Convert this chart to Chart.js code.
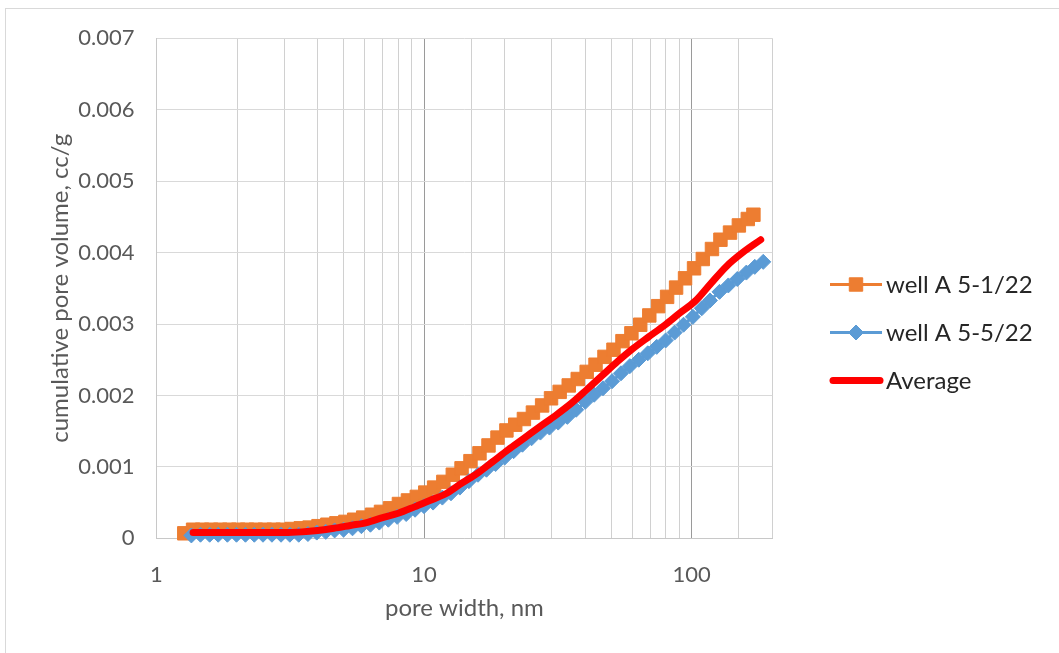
<!DOCTYPE html>
<html>
<head>
<meta charset="utf-8">
<script src="https://cdn.jsdelivr.net/npm/chart.js@4/dist/chart.umd.min.js"></script>
<style>
  html, body { margin: 0; padding: 0; background: #fff; }
  #wrap { width: 1059px; height: 653px; position: relative; }
</style>
</head>
<body>
<div id="wrap"><canvas id="poreChart"></canvas></div>
<script>
// dados (largura de poro em nm, volume acumulado em cc/g)
const seriesNames = ['well A 5-1/22', 'well A 5-5/22', 'Average'];

const orangeWidth = [1.27, 1.37, 1.48, 1.60, 1.73, 1.87, 2.02, 2.18, 2.35, 2.54, 2.74, 2.96, 3.20, 3.46, 3.73,
  4.03, 4.35, 4.70, 5.08, 5.48, 5.92, 6.39, 6.90, 7.46, 8.05, 8.70, 9.39, 10.1, 10.9, 11.8, 12.8, 13.8, 14.9,
  16.1, 17.4, 18.8, 20.3, 21.9, 23.6, 25.5, 27.6, 29.8, 32.1, 34.7, 37.5, 40.5, 43.7, 47.2, 51.0, 55.1, 59.5,
  64.2, 69.4, 74.9, 80.9, 87.4, 94.4, 102, 110, 119, 128, 139, 150, 162, 170];
const orangeVol = [0.00007, 0.00012, 0.00012, 0.00012, 0.00012, 0.00012, 0.00012, 0.00012, 0.00012, 0.00012,
  0.00012, 0.00012, 0.00013, 0.00014, 0.00015, 0.00017, 0.00019, 0.00021, 0.00023, 0.00026, 0.00029, 0.00033,
  0.00037, 0.00042, 0.00048, 0.00053, 0.00058, 0.00064, 0.00071, 0.00079, 0.00089, 0.00098, 0.00108, 0.00119,
  0.00130, 0.00141, 0.00151, 0.00159, 0.00167, 0.00176, 0.00186, 0.00196, 0.00205, 0.00214, 0.00223, 0.00233,
  0.00243, 0.00254, 0.00264, 0.00276, 0.00287, 0.00299, 0.00312, 0.00325, 0.00338, 0.00351, 0.00364, 0.00378,
  0.00391, 0.00405, 0.00418, 0.00428, 0.00438, 0.00447, 0.00453];

const blueWidth = [1.35, 1.46, 1.58, 1.70, 1.84, 1.99, 2.15, 2.32, 2.50, 2.70, 2.92, 3.15, 3.40, 3.68, 3.97,
  4.29, 4.63, 5.00, 5.40, 5.83, 6.30, 6.80, 7.35, 7.93, 8.57, 9.25, 9.99, 10.8, 11.7, 12.6, 13.6, 14.7, 15.9,
  17.1, 18.5, 20.0, 21.6, 23.3, 25.2, 27.2, 29.4, 31.7, 34.3, 37.0, 40.0, 43.2, 46.6, 50.4, 54.4, 58.7, 63.4,
  68.5, 74.0, 79.9, 86.3, 93.2, 101, 109, 117, 127, 137, 148, 160, 172, 185];
const blueVol = [0.00004, 0.00005, 0.00005, 0.00005, 0.00005, 0.00005, 0.00005, 0.00005, 0.00005, 0.00005,
  0.00005, 0.00005, 0.00005, 0.00006, 0.00008, 0.00009, 0.00011, 0.00012, 0.00014, 0.00017, 0.00019, 0.00022,
  0.00026, 0.00030, 0.00034, 0.00040, 0.00045, 0.00050, 0.00057, 0.00063, 0.00071, 0.00080, 0.00089, 0.00096,
  0.00104, 0.00113, 0.00122, 0.00131, 0.00140, 0.00148, 0.00155, 0.00162, 0.00170, 0.00180, 0.00191, 0.00201,
  0.00210, 0.00220, 0.00231, 0.00241, 0.00250, 0.00259, 0.00268, 0.00277, 0.00288, 0.00299, 0.00310, 0.00322,
  0.00333, 0.00345, 0.00354, 0.00363, 0.00372, 0.00380, 0.00387];

const avgWidth = [1.37, 1.6, 1.9, 2.2, 2.6, 3.0, 3.5, 4.0, 4.6, 5.3, 6.1, 7.0, 8.0, 9.2, 10.5, 12, 13.8, 15.8,
  18, 20.6, 23.6, 27, 31, 35.5, 40.5, 46, 53, 60, 69, 79, 90, 103, 118, 135, 155, 181];
const avgVol = [0.00008, 0.00008, 0.00008, 0.00008, 0.00008, 0.00008, 0.00009, 0.00011, 0.00014, 0.00018,
  0.00022, 0.00029, 0.00035, 0.00044, 0.00053, 0.00062, 0.00077, 0.00091, 0.00107, 0.00124, 0.00140, 0.00156,
  0.00172, 0.00189, 0.00208, 0.00227, 0.00248, 0.00265, 0.00282, 0.00298, 0.00315, 0.00332, 0.00357, 0.00381,
  0.00400, 0.00418];

const xLabels = [1, 10, 100];
const yTicks = [0, 0.001, 0.002, 0.003, 0.004, 0.005, 0.006, 0.007];

const toPoints = (xs, ys) => xs.map((x, i) => ({ x: x, y: ys[i] }));

const FONT = 'Lato, "Open Sans", sans-serif';

// moldura e fundo
const framePlugin = {
  id: 'frame',
  beforeDraw(chart) {
    const ctx = chart.ctx;
    ctx.save();
    ctx.fillStyle = '#fff';
    ctx.fillRect(0, 0, chart.width, chart.height);
    ctx.strokeStyle = '#d9d9d9';
    ctx.lineWidth = 1;
    ctx.strokeRect(5.5, 8.5, 3000, 3000);
    ctx.restore();
  }
};

// legenda no estilo do Excel (linha + marcador)
const legendPlugin = {
  id: 'xlLegend',
  afterDraw(chart) {
    const ctx = chart.ctx;
    const items = chart.data.datasets.slice().reverse();
    ctx.save();
    items.forEach((ds, i) => {
      const y = 284.5 + i * 48;
      const isAvg = ds.label === 'Average';
      ctx.strokeStyle = ds.borderColor;
      ctx.lineWidth = ds.borderWidth;
      ctx.lineCap = isAvg ? 'round' : 'butt';
      ctx.beginPath();
      ctx.moveTo(isAvg ? 833 : 830, y);
      ctx.lineTo(isAvg ? 880 : 882, y);
      ctx.stroke();
      if (ds.pointRadius > 0) {
        ctx.fillStyle = ds.pointBackgroundColor;
        ctx.strokeStyle = ds.pointBorderColor;
        ctx.lineWidth = 1;
        Chart.helpers.drawPoint(ctx, {
          pointStyle: ds.pointStyle,
          radius: ds.pointRadius,
          borderWidth: 1,
          rotation: 0
        }, 856, y);
      }
      ctx.fillStyle = '#262626';
      ctx.font = '24px ' + FONT;
      ctx.textBaseline = 'middle';
      ctx.textAlign = 'left';
      ctx.fillText(ds.label, 886, y + 1);
    });
    ctx.restore();
  }
};

const ctx = document.getElementById('poreChart').getContext('2d');

new Chart(ctx, {
  type: 'line',
  data: {
    datasets: [
      {
        label: seriesNames[2],
        data: toPoints(avgWidth, avgVol),
        borderColor: '#ff0000',
        backgroundColor: '#ff0000',
        borderWidth: 7,
        pointRadius: 0,
        borderCapStyle: 'round',
        cubicInterpolationMode: 'monotone',
        clip: false
      },
      {
        label: seriesNames[1],
        data: toPoints(blueWidth, blueVol),
        borderColor: '#5b9bd5',
        backgroundColor: '#5b9bd5',
        borderWidth: 3,
        pointStyle: 'rectRot',
        pointRadius: 7.5,
        pointBackgroundColor: '#5b9bd5',
        pointBorderColor: '#5b9bd5',
        pointBorderWidth: 1,
        tension: 0,
        clip: false
      },
      {
        label: seriesNames[0],
        data: toPoints(orangeWidth, orangeVol),
        borderColor: '#ed7d31',
        backgroundColor: '#ed7d31',
        borderWidth: 3,
        pointStyle: 'rect',
        pointRadius: 9.5,
        pointBackgroundColor: '#ed7d31',
        pointBorderColor: '#ed7d31',
        pointBorderWidth: 1,
        tension: 0,
        clip: false
      }
    ]
  },
  options: {
    responsive: true,
    maintainAspectRatio: false,
    animation: false,
    events: [],
    layout: { padding: { left: 0, right: 286.7, top: 38.3, bottom: 0 } },
    plugins: {
      legend: { display: false },
      tooltip: { enabled: false }
    },
    scales: {
      x: {
        type: 'logarithmic',
        min: 1,
        max: 200,
        grid: {
          drawTicks: false,
          lineWidth: 1,
          color: (c) => {
            const v = c.tick ? c.tick.value : 0;
            return (v === 10 || v === 100) ? '#9a9a9a' : '#d0d0d0';
          }
        },
        border: { display: true, color: '#c8c8c8' },
        ticks: {
          autoSkip: false,
          maxRotation: 0,
          padding: 23,
          color: '#595959',
          font: { family: FONT, size: 22 },
          callback: (v) => xLabels.includes(v) ? String(v) : ''
        },
        title: {
          display: true,
          text: 'pore width, nm',
          color: '#595959',
          font: { family: FONT, size: 24 },
          padding: { top: 0, bottom: 30.6 }
        },
        afterFit: (s) => { s.height = 653 - 538.3; }
      },
      y: {
        min: 0,
        max: 0.007,
        grid: { drawTicks: false, color: '#d9d9d9', lineWidth: 1 },
        border: { display: true, color: '#c8c8c8' },
        afterBuildTicks: (s) => { s.ticks = yTicks.map(v => ({ value: v })); },
        ticks: {
          padding: 22,
          color: '#595959',
          font: { family: FONT, size: 22 },
          callback: (v) => v === 0 ? '0' : v.toFixed(3)
        },
        title: {
          display: true,
          text: 'cumulative pore volume, cc/g',
          color: '#595959',
          font: { family: FONT, size: 24 },
          padding: { top: 45.6, bottom: 0 }
        },
        afterFit: (s) => { s.width = 156.5; }
      }
    }
  },
  plugins: [framePlugin, legendPlugin]
});
</script>
</body>
</html>
